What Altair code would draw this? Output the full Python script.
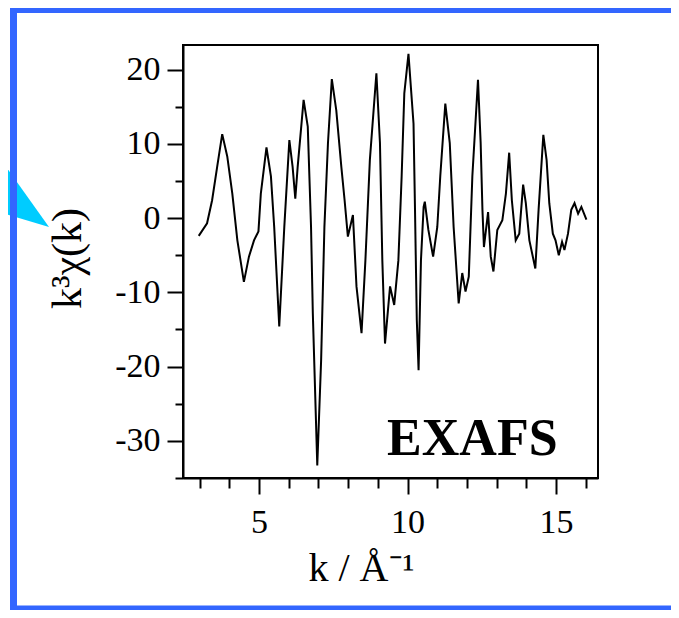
import altair as alt
import pandas as pd

# EXAFS signal k^3 chi(k)
k = [2.97, 3.25, 3.42, 3.59, 3.76, 3.93, 4.10, 4.27, 4.49, 4.66, 4.83, 4.98, 5.06, 5.25, 5.40,
     5.51, 5.68, 5.85, 6.02, 6.13, 6.22, 6.30, 6.50, 6.64, 6.75, 6.81, 6.96, 7.09, 7.20, 7.32,
     7.45, 7.60, 7.77, 7.88, 7.99, 8.16, 8.28, 8.45, 8.58, 8.73, 8.95, 9.07, 9.15, 9.24, 9.41,
     9.55, 9.69, 9.80, 9.89, 10.03, 10.20, 10.25, 10.31, 10.37, 10.45, 10.54, 10.58, 10.70, 10.86,
     11.00, 11.10, 11.27, 11.42, 11.55, 11.72, 11.84, 11.95, 12.06, 12.18, 12.37, 12.46, 12.52,
     12.57, 12.71, 12.80, 12.89, 13.02, 13.19, 13.31, 13.42, 13.51, 13.64, 13.76, 13.89, 13.98,
     14.10, 14.30, 14.41, 14.57, 14.68, 14.77, 14.89, 14.98, 15.09, 15.20, 15.28, 15.40, 15.51,
     15.62, 15.74, 15.85, 16.02]
chi = [-2.4, -0.7, 2.4, 6.9, 11.3, 8.3, 3.3, -3.0, -8.6, -5.2, -3.0, -1.8, 3.3, 9.5, 5.6,
       -1.2, -14.6, -1.2, 10.5, 6.9, 2.6, 6.9, 15.9, 12.3, -1.2, -12.8, -33.3, -19.1, -1.2, 10.1,
       18.7, 14.5, 6.9, 2.4, -2.5, 0.4, -9.2, -15.5, -5.7, 7.8, 19.5, 10.1, -5.7, -16.9, -9.2,
       -11.7, -5.7, 5.6, 16.8, 22.1, 12.7, 1.1, -13.7, -20.5, -5.7, 1.5, 2.2, -1.6, -5.2,
       -1.2, 5.6, 15.4, 10.1, -1.2, -11.5, -7.4, -9.9, -7.9, 5.6, 18.6, 10.1, 1.1,
       -3.9, 0.8, -5.2, -7.2, -1.6, -0.3, 3.3, 8.8, 2.4, -3.0, -2.1, 4.5, 2.0,
       -3.0, -6.8, 1.1, 11.2, 7.8, 2.0, -2.1, -3.0, -5.0, -3.2, -4.3, -2.1, 1.1,
       2.0, 0.6, 1.5, -0.2]

x_major = [5, 10, 15]
x_minor = [3, 4, 6, 7, 8, 9, 11, 12, 13, 14, 16]
y_major = [-30, -20, -10, 0, 10, 20]
y_minor = [-35, -25, -15, -5, 5, 15]

label_text = ["EXAFS"]
label_k = [12.18]
label_chi = [-31.9]

df = pd.DataFrame({"k": k, "chi": chi})
lab = pd.DataFrame({"k": label_k, "chi": label_chi, "t": label_text})
one = pd.DataFrame({"a": [0]})

serif = "Liberation Serif"
xs = alt.Scale(domain=[2.44, 16.41], nice=False, zero=False)
ys = alt.Scale(domain=[-35.0, 23.3], nice=False, zero=False)

line = alt.Chart(df).mark_line(color="black", strokeWidth=2).encode(
    x=alt.X("k:Q", scale=xs, axis=alt.Axis(
        orient="bottom", values=x_major, labelExpr="toString(datum.value)", grid=False,
        tickSize=16, tickWidth=2, tickColor="black",
        domainColor="black", domainWidth=2,
        labelFont=serif, labelFontSize=34, labelColor="black", labelPadding=11,
        title="k / Å⁻¹", titleFont=serif, titleFontSize=40, titleFontWeight="normal",
        titleColor="black", titleX=178, titleY=102, titleAlign="center",
        titleBaseline="alphabetic")),
    y=alt.Y("chi:Q", scale=ys, axis=alt.Axis(
        orient="left", values=y_major, labelExpr="toString(datum.value)", grid=False,
        tickSize=16, tickWidth=2, tickColor="black",
        domainColor="black", domainWidth=2,
        labelFont=serif, labelFontSize=34, labelColor="black", labelPadding=7,
        title="k³χ(k)", titleFont=serif, titleFontSize=42, titleFontWeight="normal",
        titleColor="black", titleX=-116, titleY=213, titleAngle=270,
        titleAlign="center", titleBaseline="middle")),
)

minor = alt.Chart(df).mark_line(strokeOpacity=0).encode(
    x=alt.X("k:Q", scale=xs, axis=alt.Axis(
        orient="bottom", values=x_minor, labels=False, domain=False, grid=False,
        tickSize=10, tickWidth=2, tickColor="black", title=None)),
    y=alt.Y("chi:Q", scale=ys, axis=alt.Axis(
        orient="left", values=y_minor, labels=False, domain=False, grid=False,
        tickSize=8, tickWidth=2, tickColor="black", title=None)),
)

label = alt.Chart(lab).mark_text(
    font=serif, fontSize=52, fontWeight="bold", color="black",
    align="center", baseline="alphabetic"
).encode(
    x=alt.X("k:Q", scale=xs, axis=None),
    y=alt.Y("chi:Q", scale=ys, axis=None),
    text="t:N",
)

blue = "#3366FF"
frame_left = alt.Chart(one).mark_rule(color=blue, strokeWidth=7).encode(
    x=alt.value(-169.5), y=alt.value(-40), y2=alt.value(570))
frame_top = alt.Chart(one).mark_rule(color=blue, strokeWidth=7).encode(
    x=alt.value(-173), x2=alt.value(500), y=alt.value(-35.5))
frame_bottom = alt.Chart(one).mark_rule(color=blue, strokeWidth=5).encode(
    x=alt.value(-173), x2=alt.value(500), y=alt.value(563))

arrow = alt.Chart(one).mark_point(
    shape="M-30,-38 L-30,17 L20,32 Z", filled=True, color="#00CCFF",
    opacity=1, strokeWidth=0, size=4
).encode(x=alt.value(-154), y=alt.value(150))

chart = alt.layer(
    arrow, frame_left, frame_top, frame_bottom, minor, line, label
).resolve_axis(
    x="independent", y="independent"
).properties(
    width=415, height=433,
    autosize=alt.AutoSizeParams(type="none"),
    padding={"left": 175, "top": 37, "right": 73, "bottom": 132},
    background="white",
).configure_view(
    stroke="black", strokeWidth=2
)

chart.save("out.html", embed_options={"renderer": "svg", "actions": False})
